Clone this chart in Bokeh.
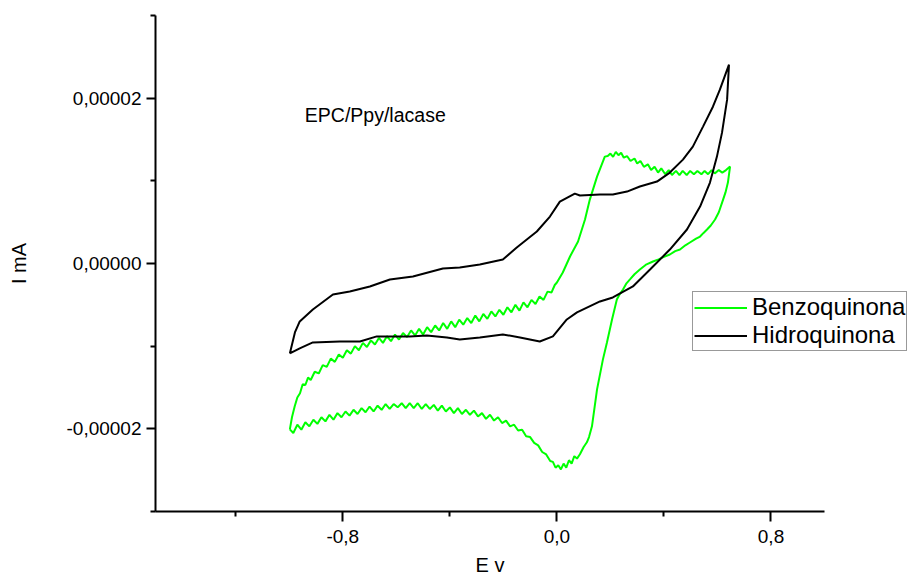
from bokeh.plotting import figure
from bokeh.models import Range1d, FixedTicker, CustomJSTickFormatter, Legend, LegendItem, Label, Title
from bokeh.embed import file_html
from bokeh.resources import INLINE

# ---------------- data (E in V, I in units of 1e-5 mA) ----------------
# Hidroquinona loop
hq_e = [-0.998, -0.979, -0.961, -0.912, -0.837, -0.774, -0.699, -0.624, -0.538, -0.426,
        -0.363, -0.288, -0.202, -0.150, -0.075, -0.026, 0.011, 0.067, 0.086, 0.161,
        0.209, 0.262, 0.310, 0.374, 0.422, 0.471, 0.508, 0.546, 0.583, 0.609, 0.643,
        0.636, 0.617, 0.598, 0.572, 0.535, 0.486, 0.422, 0.348, 0.284, 0.209, 0.161,
        0.075, 0.037, -0.015, -0.064, -0.138, -0.202, -0.288, -0.363, -0.411, -0.486,
        -0.550, -0.673, -0.736, -0.811, -0.912, -0.961, -0.998]
hq_i = [-1.088, -0.834, -0.701, -0.556, -0.375, -0.338, -0.278, -0.193, -0.157, -0.060,
        -0.048, -0.012, 0.048, 0.193, 0.387, 0.568, 0.749, 0.846, 0.822, 0.834,
        0.834, 0.870, 0.931, 0.991, 1.100, 1.257, 1.414, 1.656, 1.897, 2.103, 2.405,
        1.982, 1.583, 1.293, 0.979, 0.689, 0.411, 0.169, -0.073, -0.278, -0.411, -0.459,
        -0.592, -0.677, -0.882, -0.943, -0.894, -0.858, -0.894, -0.918, -0.894, -0.870,
        -0.882, -0.882, -0.943, -0.943, -0.955, -1.027, -1.088]

# Benzoquinona loop: upper (anodic) branch
bq_up_e = [-0.998, -0.990, -0.980, -0.970, -0.960, -0.950, -0.940, -0.930, -0.920, -0.905,
           -0.890, -0.875, -0.860, -0.845, -0.830, -0.815, -0.800, -0.785, -0.770, -0.755,
           -0.740, -0.725, -0.710, -0.695, -0.680, -0.665, -0.650, -0.635, -0.620, -0.605,
           -0.590, -0.575, -0.560, -0.545, -0.530, -0.515, -0.500, -0.485, -0.470, -0.455,
           -0.440, -0.425, -0.410, -0.395, -0.380, -0.365, -0.350, -0.335, -0.320, -0.305,
           -0.290, -0.275, -0.260, -0.245, -0.230, -0.215, -0.200, -0.185, -0.170, -0.155,
           -0.140, -0.125, -0.110, -0.095, -0.080, -0.065, -0.050, -0.035, -0.020, -0.008,
           0.000, 0.022, 0.049, 0.079, 0.105, 0.123, 0.150, 0.179, 0.190, 0.200,
           0.210, 0.220, 0.230, 0.240, 0.250, 0.262, 0.275, 0.290, 0.300, 0.312,
           0.325, 0.340, 0.352, 0.365, 0.378, 0.390, 0.405, 0.418, 0.430, 0.445,
           0.458, 0.470, 0.485, 0.498, 0.512, 0.525, 0.540, 0.552, 0.565, 0.578,
           0.590, 0.605, 0.618, 0.632, 0.647]
bq_up_i = [-2.006, -1.86, -1.73, -1.62, -1.57, -1.46, -1.47, -1.38, -1.41, -1.31,
           -1.33, -1.23, -1.25, -1.15, -1.19, -1.10, -1.14, -1.05, -1.09, -1.00,
           -1.05, -0.96, -1.01, -0.93, -0.98, -0.90, -0.96, -0.88, -0.94, -0.86,
           -0.92, -0.84, -0.89, -0.81, -0.87, -0.79, -0.86, -0.77, -0.83, -0.75,
           -0.81, -0.72, -0.79, -0.70, -0.77, -0.68, -0.74, -0.66, -0.72, -0.63,
           -0.70, -0.61, -0.67, -0.58, -0.64, -0.56, -0.62, -0.53, -0.59, -0.50,
           -0.57, -0.47, -0.53, -0.44, -0.49, -0.40, -0.44, -0.34, -0.35, -0.26,
           -0.23, -0.109, 0.085, 0.266, 0.532, 0.773, 1.051, 1.293, 1.30, 1.33,
           1.29, 1.35, 1.31, 1.34, 1.28, 1.30, 1.24, 1.27, 1.21, 1.24,
           1.17, 1.20, 1.13, 1.17, 1.10, 1.15, 1.08, 1.13, 1.07, 1.12,
           1.07, 1.12, 1.07, 1.12, 1.08, 1.12, 1.08, 1.12, 1.08, 1.13,
           1.09, 1.13, 1.10, 1.13, 1.172]
# right (return) branch
bq_rt_e = [0.639, 0.630, 0.621, 0.605, 0.591, 0.575, 0.561, 0.548, 0.535, 0.520,
           0.497, 0.480, 0.460, 0.442, 0.422, 0.400, 0.380, 0.359, 0.335, 0.310,
           0.290, 0.273, 0.260, 0.247, 0.235, 0.224, 0.206, 0.187, 0.172, 0.150,
           0.131, 0.120, 0.112, 0.100]
bq_rt_i = [0.979, 0.86, 0.773, 0.62, 0.532, 0.46, 0.411, 0.37, 0.326, 0.30,
           0.254, 0.22, 0.169, 0.15, 0.109, 0.08, 0.05, 0.024, -0.01, -0.073,
           -0.13, -0.193, -0.24, -0.314, -0.37, -0.435, -0.677, -0.955, -1.160, -1.523,
           -1.970, -2.10, -2.163, -2.22]
# lower (cathodic) branch
bq_lo_e = [0.086, 0.075, 0.065, 0.055, 0.045, 0.035, 0.025, 0.015, 0.005, -0.005,
           -0.015, -0.025, -0.040, -0.055, -0.070, -0.085, -0.100, -0.115, -0.130, -0.145,
           -0.160, -0.175, -0.190, -0.205, -0.220, -0.235, -0.250, -0.265, -0.280, -0.295,
           -0.310, -0.325, -0.340, -0.355, -0.370, -0.385, -0.400, -0.415, -0.430, -0.445,
           -0.460, -0.475, -0.490, -0.505, -0.520, -0.535, -0.550, -0.565, -0.580, -0.595,
           -0.610, -0.625, -0.640, -0.655, -0.670, -0.685, -0.700, -0.715, -0.730, -0.745,
           -0.760, -0.775, -0.790, -0.805, -0.820, -0.835, -0.850, -0.865, -0.880, -0.895,
           -0.910, -0.925, -0.940, -0.955, -0.970, -0.985, -0.998]
bq_lo_i = [-2.308, -2.36, -2.33, -2.42, -2.38, -2.47, -2.42, -2.49, -2.44, -2.47,
           -2.40, -2.39, -2.31, -2.28, -2.20, -2.17, -2.10, -2.09, -2.01, -2.02,
           -1.95, -1.97, -1.90, -1.93, -1.86, -1.90, -1.83, -1.88, -1.81, -1.85,
           -1.78, -1.83, -1.77, -1.82, -1.75, -1.81, -1.74, -1.79, -1.72, -1.78,
           -1.71, -1.76, -1.70, -1.76, -1.69, -1.75, -1.69, -1.75, -1.69, -1.74,
           -1.70, -1.76, -1.70, -1.77, -1.72, -1.79, -1.73, -1.80, -1.75, -1.82,
           -1.77, -1.84, -1.79, -1.86, -1.81, -1.89, -1.83, -1.91, -1.86, -1.94,
           -1.89, -1.97, -1.92, -2.01, -1.95, -2.05, -2.006]

series_labels = ["Benzoquinona", "Hidroquinona"]
x_major = [-0.8, 0.0, 0.8]
x_minor = [-1.2, -0.4, 0.4]
y_major = [-2e-5, 0.0, 2e-5]
y_minor = [-3e-5, -1e-5, 1e-5, 3e-5]

scale = 1e-5
bq_e = bq_up_e + bq_rt_e + bq_lo_e
bq_y = [v * scale for v in (bq_up_i + bq_rt_i + bq_lo_i)]
hq_y = [v * scale for v in hq_i]

FONT = "Liberation Sans"

# frame extends to the right edge so the legend is not clipped; the x axis line stops at 1.0
p = figure(width=909, height=583, output_backend="svg", toolbar_location=None,
           x_range=Range1d(-1.5, 1.3176), y_range=Range1d(-3e-5, 3e-5),
           min_border_left=155, min_border_right=0, min_border_top=15, min_border_bottom=72,
           y_axis_label="I mA")
p.outline_line_color = None
p.grid.visible = False
p.background_fill_color = "white"
p.border_fill_color = "white"

for ax in (p.xaxis[0], p.yaxis[0]):
    ax.axis_line_width = 2
    ax.axis_line_color = "black"
    ax.major_tick_line_width = 2
    ax.minor_tick_line_width = 2
    ax.major_tick_in = 0
    ax.minor_tick_in = 0
    ax.major_label_text_font = FONT
    ax.major_label_text_font_size = "19px"
    ax.major_label_text_color = "black"
    ax.axis_label_text_font = FONT
    ax.axis_label_text_font_size = "20px"
    ax.axis_label_text_font_style = "normal"
    ax.axis_label_text_color = "black"

p.xaxis[0].bounds = (-1.5, 1.0)
p.xaxis[0].ticker = FixedTicker(ticks=x_major, minor_ticks=x_minor)
p.yaxis[0].ticker = FixedTicker(ticks=y_major, minor_ticks=y_minor)
p.xaxis[0].formatter = CustomJSTickFormatter(code="return tick.toFixed(1).replace('.', ',');")
p.yaxis[0].formatter = CustomJSTickFormatter(code="return tick.toFixed(5).replace('.', ',');")
p.xaxis[0].major_tick_out = 10
p.xaxis[0].minor_tick_out = 5
p.yaxis[0].major_tick_out = 9
p.yaxis[0].minor_tick_out = 5
p.xaxis[0].major_label_standoff = 8
p.yaxis[0].major_label_standoff = 5
p.yaxis[0].axis_label_standoff = 33

# x axis title, centred under the drawn axis line (-1.5 .. 1.0)
xt = Title(text="E v", align="left", offset=320, standoff=12, text_font=FONT,
           text_font_size="20px", text_font_style="normal", text_color="black")
p.add_layout(xt, "below")

r_bq = p.line(bq_e, bq_y, line_color="#00ff00", line_width=2)
r_hq = p.line(hq_e, hq_y, line_color="black", line_width=2)

legend = Legend(items=[LegendItem(label=series_labels[0], renderers=[r_bq]),
                       LegendItem(label=series_labels[1], renderers=[r_hq])],
                location=(537, 160), orientation="vertical")
legend.label_text_font = FONT
legend.label_text_font_size = "24px"
legend.label_text_color = "black"
legend.glyph_width = 53
legend.glyph_height = 25
legend.label_height = 25
legend.label_standoff = 5
legend.spacing = 0
legend.padding = 1
legend.margin = 0
legend.border_line_color = "#333333"
legend.border_line_width = 1
legend.background_fill_alpha = 1
p.add_layout(legend, "center")

lbl = Label(x=-0.942, y=1.8e-5, text="EPC/Ppy/lacase", text_font=FONT, text_font_size="19.5px",
            text_baseline="middle", text_color="black")
p.add_layout(lbl)

open("out.html", "w").write(file_html(p, INLINE))
